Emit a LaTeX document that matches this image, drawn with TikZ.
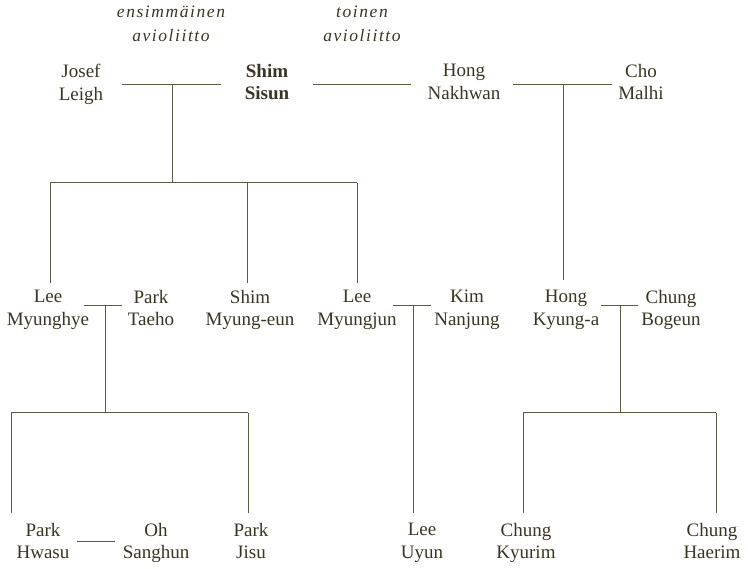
\documentclass[tikz,border=0pt]{standalone}
\usepackage{fontspec}
\setmainfont{Liberation Serif}
\newfontfamily\spacedit[LetterSpace=9]{Liberation Serif}
\definecolor{ink}{HTML}{3A3522}
\definecolor{rule}{HTML}{5E5945}
\tikzset{
  person/.style={align=center, text=ink, font=\fontsize{19}{22.5}\selectfont, inner sep=0pt, anchor=north, execute at begin node=\strut},
  note/.style={align=center, text=ink, font=\fontsize{17.5}{24}\selectfont\spacedit\itshape, inner sep=0pt, anchor=north, execute at begin node=\strut},
  link/.style={draw=rule, line width=1pt},
}
\begin{document}
\begin{tikzpicture}[x=1pt, y=-1pt]
\useasboundingbox (0,0) rectangle (748,569);
% notes
\node[note] (n1) at (171,6) {ensimmäinen\\avioliitto};
\node[note] (n2) at (362,6) {toinen\\avioliitto};
% row 1
\node[person] (josef) at (81,64) {Josef\\Leigh};
\node[person, font=\fontsize{19}{22.5}\selectfont\bfseries] (shim) at (267,64) {Shim\\Sisun};
\node[person] (hong) at (464,64) {Hong\\Nakhwan};
\node[person] (cho) at (641,64) {Cho\\Malhi};
% row 2
\node[person] (myunghye) at (48,290) {Lee\\Myunghye};
\node[person] (taeho) at (151,290) {Park\\Taeho};
\node[person] (myungeun) at (250,290) {Shim\\Myung-eun};
\node[person] (myungjun) at (357,290) {Lee\\Myungjun};
\node[person] (nanjung) at (467,290) {Kim\\Nanjung};
\node[person] (kyunga) at (566,290) {Hong\\Kyung-a};
\node[person] (bogeun) at (671,290) {Chung\\Bogeun};
% row 3
\node[person] (hwasu) at (43,523) {Park\\Hwasu};
\node[person] (sanghun) at (156,523) {Oh\\Sanghun};
\node[person] (jisu) at (251,523) {Park\\Jisu};
\node[person] (uyun) at (422,523) {Lee\\Uyun};
\node[person] (kyurim) at (526,523) {Chung\\Kyurim};
\node[person] (haerim) at (712,523) {Chung\\Haerim};
% junction coordinates
\coordinate (m1a) at (122,85); \coordinate (m1b) at (221,85); \coordinate (m1) at (172,85);
\coordinate (m2a) at (313,85); \coordinate (m2b) at (411,85);
\coordinate (m3a) at (513,85); \coordinate (m3b) at (612,85); \coordinate (m3) at (563,85);
\coordinate (b1) at (172,183); \coordinate (b1l) at (50,183); \coordinate (b1m) at (247,183); \coordinate (b1r) at (357,183);
\coordinate (c1) at (50,283); \coordinate (c2) at (247,283); \coordinate (c3) at (357,283); \coordinate (c4) at (563,280);
\coordinate (m4a) at (84,306); \coordinate (m4b) at (122,306); \coordinate (m4) at (105,306);
\coordinate (m5a) at (393,306); \coordinate (m5b) at (431,306); \coordinate (m5) at (413,306);
\coordinate (m6a) at (601,306); \coordinate (m6b) at (638,306); \coordinate (m6) at (620,306);
\coordinate (b2) at (105,413); \coordinate (b2l) at (11,413); \coordinate (b2r) at (248,413);
\coordinate (b3) at (620,413); \coordinate (b3l) at (523,413); \coordinate (b3r) at (716,413);
\coordinate (d1) at (11,513); \coordinate (d2) at (248,513); \coordinate (d3) at (413,513);
\coordinate (d4) at (523,513); \coordinate (d5) at (716,513);
\coordinate (m7a) at (77,542); \coordinate (m7b) at (115,542);
% marriages and descents
\draw[link] (m1a) -- (m1b);
\draw[link] (m2a) -- (m2b);
\draw[link] (m3a) -- (m3b);
\draw[link] (m1) -- (b1);
\draw[link] (b1l) -- (b1r);
\draw[link] (b1l) -- (c1);
\draw[link] (b1m) -- (c2);
\draw[link] (b1r) -- (c3);
\draw[link] (m3) -- (c4);
\draw[link] (m4a) -- (m4b);
\draw[link] (m5a) -- (m5b);
\draw[link] (m6a) -- (m6b);
\draw[link] (m4) -- (b2);
\draw[link] (b2l) -- (b2r);
\draw[link] (b2l) -- (d1);
\draw[link] (b2r) -- (d2);
\draw[link] (m5) -- (d3);
\draw[link] (m6) -- (b3);
\draw[link] (b3l) -- (b3r);
\draw[link] (b3l) -- (d4);
\draw[link] (b3r) -- (d5);
\draw[link] (m7a) -- (m7b);
\end{tikzpicture}
\end{document}
